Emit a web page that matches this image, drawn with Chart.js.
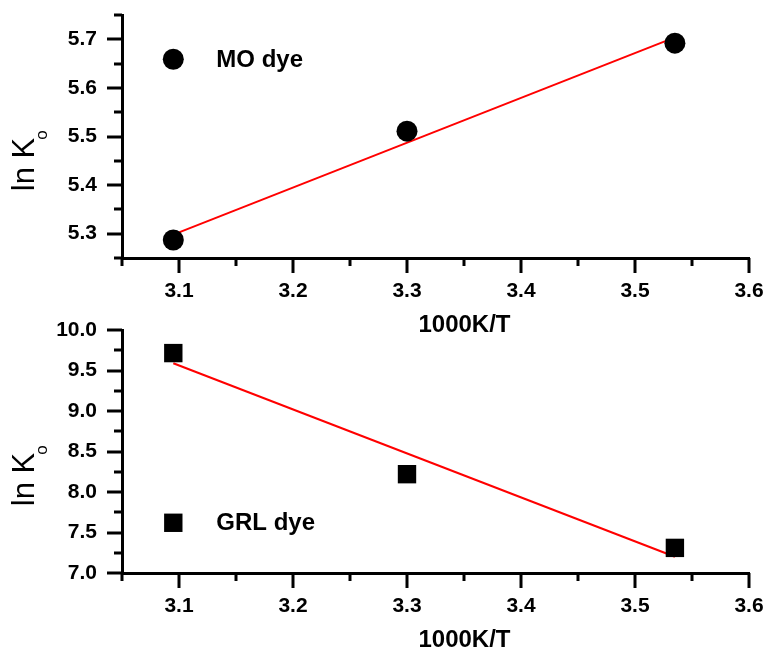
<!DOCTYPE html>
<html>
<head>
<meta charset="utf-8">
<script src="https://cdn.jsdelivr.net/npm/chart.js@4.4.1/dist/chart.umd.min.js"></script>
<style>
html, body { margin: 0; padding: 0; background: #fff; overflow: hidden; }
#wrap { position: relative; width: 764px; height: 648px; }
#wrap canvas { position: absolute; left: 0; top: 0; }
</style>
</head>
<body>
<div id="wrap">
    <canvas id="chartTop" width="764" height="648"></canvas>
    <canvas id="chartBottom" width="764" height="648"></canvas>
</div>
<script>
// Axis texts
const xTitle = '1000K/T';
const yTitle = 'ln K';
const yTitleSub = 'o';

// x axis (shared by both panels)
const xTicks = [3.05, 3.1, 3.15, 3.2, 3.25, 3.3, 3.35, 3.4, 3.45, 3.5, 3.55, 3.6];
const xTickLabels = ['', '3.1', '', '3.2', '', '3.3', '', '3.4', '', '3.5', '', '3.6'];
const tempX = [3.095, 3.30, 3.535];
const fitX = [3.095, 3.535];

// top panel: MO dye
const moName = 'MO dye';
const moLnK = [5.287, 5.511, 5.692];
const moFitY = [5.298, 5.704];
const moKeyX = [3.095];
const moKeyY = [5.659];
const moYTicks = [5.25, 5.3, 5.35, 5.4, 5.45, 5.5, 5.55, 5.6, 5.65, 5.7, 5.75];
const moYTickLabels = ['', '5.3', '', '5.4', '', '5.5', '', '5.6', '', '5.7', ''];

// bottom panel: GRL dye
const grlName = 'GRL dye';
const grlLnK = [9.715, 8.22, 7.31];
const grlFitY = [9.59, 7.20];
const grlKeyX = [3.095];
const grlKeyY = [7.62];
const grlYTicks = [7.0, 7.25, 7.5, 7.75, 8.0, 8.25, 8.5, 8.75, 9.0, 9.25, 9.5, 9.75, 10.0];
const grlYTickLabels = ['7.0', '', '7.5', '', '8.0', '', '8.5', '', '9.0', '', '9.5', '', '10.0'];

const tickFont = { family: 'Liberation Sans', weight: 'bold', size: 21 };

function toPoints(xs, ys) {
    return xs.map((x, i) => ({ x: x, y: ys[i] }));
}

// draws the tick marks (long for labelled, short for the rest), titles and key text
const decorPlugin = {
    id: 'decor',
    afterDraw(chart, args, opts) {
        const ctx = chart.ctx;
        const area = chart.chartArea;
        const xs = chart.scales.x;
        const ys = chart.scales.y;
        ctx.save();
        ctx.strokeStyle = '#000';
        ctx.lineWidth = 3;
        ctx.lineCap = 'butt';
        xs.ticks.forEach((t, i) => {
            const px = Math.round(xs.getPixelForValue(t.value));
            const len = xTickLabels[i] ? 15 : 8;
            ctx.beginPath();
            ctx.moveTo(px, area.bottom);
            ctx.lineTo(px, area.bottom + len);
            ctx.stroke();
        });
        ys.ticks.forEach((t, i) => {
            const py = Math.round(ys.getPixelForValue(t.value));
            const len = opts.yLabels[i] ? 15 : 8;
            ctx.beginPath();
            ctx.moveTo(area.left, py);
            ctx.lineTo(area.left - len, py);
            ctx.stroke();
        });

        ctx.fillStyle = '#000';
        // x title
        ctx.font = 'bold 24px "Liberation Sans"';
        ctx.textAlign = 'center';
        ctx.textBaseline = 'middle';
        ctx.fillText(xTitle, (area.left + area.right) / 2 + 29, area.bottom + 67);

        // y title, rotated, with subscript
        const cy = (area.top + area.bottom) / 2 + 28;
        ctx.save();
        ctx.translate(34, cy);
        ctx.rotate(-Math.PI / 2);
        ctx.font = '31px "Liberation Sans"';
        const w = ctx.measureText(yTitle).width;
        ctx.textAlign = 'left';
        ctx.textBaseline = 'alphabetic';
        ctx.fillText(yTitle, -w / 2, 0);
        ctx.font = '17px "Liberation Sans"';
        ctx.fillText(yTitleSub, w / 2 - 2, 13);
        ctx.restore();

        // key text next to the key marker
        ctx.font = 'bold 24px "Liberation Sans"';
        ctx.textAlign = 'left';
        ctx.textBaseline = 'middle';
        const kx = xs.getPixelForValue(opts.keyX) + 43;
        const ky = ys.getPixelForValue(opts.keyY) + 1;
        ctx.fillText(opts.keyText, kx, ky);
        ctx.restore();
    }
};

function makePanel(canvasId, cfg) {
    const area = cfg.area;
    return new Chart(document.getElementById(canvasId), {
        type: 'scatter',
        data: {
            datasets: [
                {
                    type: 'line',
                    data: toPoints(fitX, cfg.fitY),
                    borderColor: '#ff0000',
                    borderWidth: 2,
                    pointRadius: 0,
                    fill: false,
                    order: 2
                },
                {
                    data: toPoints(tempX, cfg.values),
                    pointStyle: cfg.pointStyle,
                    pointRadius: cfg.radius,
                    backgroundColor: '#000',
                    borderColor: '#000',
                    borderWidth: 0,
                    order: 1
                },
                {
                    data: toPoints(cfg.keyX, cfg.keyY),
                    pointStyle: cfg.pointStyle,
                    pointRadius: cfg.radius,
                    backgroundColor: '#000',
                    borderColor: '#000',
                    borderWidth: 0,
                    order: 1
                }
            ]
        },
        options: {
            responsive: false,
            animation: false,
            events: [],
            layout: {
                padding: { left: 0, right: 764 - area.right, top: area.top, bottom: 648 - area.bottom - 80 }
            },
            plugins: {
                legend: { display: false },
                tooltip: { enabled: false },
                decor: { yLabels: cfg.yLabels, keyX: cfg.keyX[0], keyY: cfg.keyY[0], keyText: cfg.keyText }
            },
            scales: {
                x: {
                    type: 'linear',
                    min: xTicks[0],
                    max: xTicks[xTicks.length - 1],
                    afterBuildTicks: s => { s.ticks = xTicks.map(v => ({ value: v })); },
                    afterFit: s => { s.height = 80; s.paddingLeft = 0; s.paddingRight = 0; },
                    grid: { display: true, drawOnChartArea: false, drawTicks: true, tickLength: 15, tickColor: 'rgba(0,0,0,0)' },
                    border: { display: true, color: '#000', width: 3 },
                    ticks: {
                        color: '#000',
                        font: tickFont,
                        padding: 6,
                        maxRotation: 0,
                        autoSkip: false,
                        callback: (v, i) => xTickLabels[i]
                    }
                },
                y: {
                    type: 'linear',
                    min: cfg.yTicks[0],
                    max: cfg.yTicks[cfg.yTicks.length - 1],
                    afterBuildTicks: s => { s.ticks = cfg.yTicks.map(v => ({ value: v })); },
                    afterFit: s => { s.width = area.left; s.paddingTop = 0; s.paddingBottom = 0; },
                    grid: { display: true, drawOnChartArea: false, drawTicks: true, tickLength: 15, tickColor: 'rgba(0,0,0,0)' },
                    border: { display: true, color: '#000', width: 3 },
                    ticks: {
                        color: '#000',
                        font: tickFont,
                        padding: 10,
                        autoSkip: false,
                        callback: (v, i) => cfg.yLabels[i]
                    }
                }
            }
        },
        plugins: [decorPlugin]
    });
}

makePanel('chartTop', {
    area: { left: 122, right: 749, top: 15, bottom: 258 },
    fitY: moFitY,
    values: moLnK,
    keyX: moKeyX,
    keyY: moKeyY,
    keyText: moName,
    pointStyle: 'circle',
    radius: 10.5,
    yTicks: moYTicks,
    yLabels: moYTickLabels
});

makePanel('chartBottom', {
    area: { left: 122, right: 749, top: 330, bottom: 573 },
    fitY: grlFitY,
    values: grlLnK,
    keyX: grlKeyX,
    keyY: grlKeyY,
    keyText: grlName,
    pointStyle: 'rect',
    radius: 13,
    yTicks: grlYTicks,
    yLabels: grlYTickLabels
});
</script>
</body>
</html>
